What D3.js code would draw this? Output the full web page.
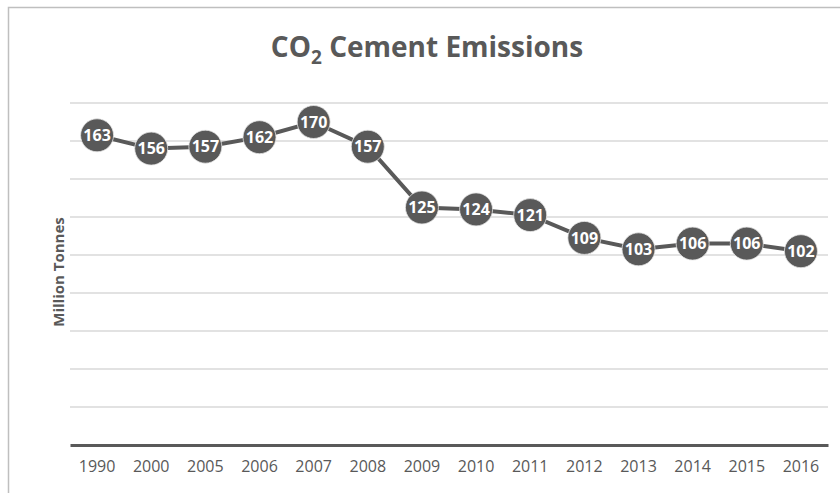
<!DOCTYPE html>
<html>
<head>
<meta charset="utf-8">
<script src="https://cdn.jsdelivr.net/npm/d3@7"></script>
<style>
  body { margin: 0; background: #fff; }
  svg { display: block; }
  text { font-family: "Open Sans", "Liberation Sans", sans-serif; }
</style>
</head>
<body>
<div id="chart"></div>
<script>
/* Data */

const years = ['1990', '2000', '2005', '2006', '2007', '2008', '2009', '2010', '2011', '2012', '2013', '2014', '2015', '2016'];
const emissions = [163, 156, 157, 162, 170, 157, 125, 124, 121, 109, 103, 106, 106, 102];
const yTicks = [0, 20, 40, 60, 80, 100, 120, 140, 160, 180];

/* Canvas */

const width = 840, height = 493;
const margin = { top: 103, right: 12, bottom: 48, left: 70 };
const grey = '#595959';

const svg = d3.select('#chart').append('svg')
    .attr('width', width)
    .attr('height', height);

// chart border
svg.append('rect')
    .attr('x', 8.5).attr('y', 7.5)
    .attr('width', width).attr('height', height)
    .attr('fill', 'none')
    .attr('stroke', '#bfbfbf')
    .attr('stroke-width', 1.5);

const x = d3.scaleBand()
    .domain(years)
    .range([margin.left, width - margin.right]);

const y = d3.scaleLinear()
    .domain([0, 180])
    .range([height - margin.bottom, margin.top]);

/* Grid */

svg.append('g')
    .selectAll('line')
    .data(yTicks.slice(1))
    .join('line')
    .attr('x1', margin.left)
    .attr('x2', width - margin.right)
    .attr('y1', d => y(d))
    .attr('y2', d => y(d))
    .attr('stroke', '#d9d9d9')
    .attr('stroke-width', 1.5);

/* Axis */

const xAxis = svg.append('g')
    .attr('transform', `translate(0,${y(0)})`)
    .call(d3.axisBottom(x).tickSize(0).tickPadding(16));

xAxis.select('.domain')
    .attr('stroke', grey)
    .attr('stroke-width', 3);

xAxis.selectAll('text')
    .attr('fill', grey)
    .style('font-size', '16px');

/* Titles */

const title = svg.append('text')
    .attr('x', 427)
    .attr('y', 57)
    .attr('text-anchor', 'middle')
    .attr('fill', grey)
    .style('font-size', '28px')
    .style('font-weight', 'bold');
title.append('tspan').text('CO');
title.append('tspan').text('2').attr('dy', 7).style('font-size', '19px');
title.append('tspan').text(' Cement Emissions').attr('dy', -7);

svg.append('text')
    .attr('transform', `translate(64,272) rotate(-90)`)
    .attr('text-anchor', 'middle')
    .attr('fill', grey)
    .style('font-size', '15px')
    .style('font-weight', 'bold')
    .text('Million Tonnes');

/* Line + markers */

const cx = d => x(d) + x.bandwidth() / 2;

const line = d3.line()
    .x((d, i) => cx(years[i]))
    .y(d => y(d));

svg.append('path')
    .datum(emissions)
    .attr('d', line)
    .attr('fill', 'none')
    .attr('stroke', grey)
    .attr('stroke-width', 4);

const points = svg.append('g')
    .selectAll('g')
    .data(emissions)
    .join('g')
    .attr('transform', (d, i) => `translate(${cx(years[i])},${y(d)})`);

points.append('circle')
    .attr('r', 16.5)
    .attr('fill', grey)
    .attr('stroke', '#e6e6e6')
    .attr('stroke-width', 0.8);

points.append('text')
    .attr('text-anchor', 'middle')
    .attr('dy', '0.36em')
    .attr('fill', '#fff')
    .style('font-size', '16px')
    .style('font-weight', 'bold')
    .text(d => d);
</script>
</body>
</html>
